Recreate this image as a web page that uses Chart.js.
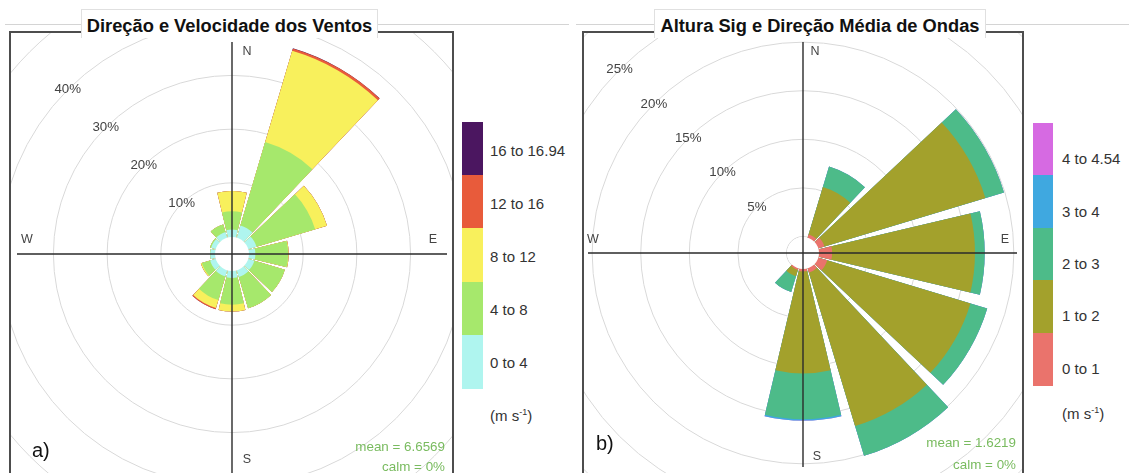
<!DOCTYPE html>
<html>
<head>
<meta charset="utf-8">
<script src="https://cdn.jsdelivr.net/npm/chart.js@4/dist/chart.umd.min.js"></script>
<style>
  body { margin:0; width:1129px; height:473px; overflow:hidden; background:#fff; position:relative;
         font-family:"Liberation Sans", Arial, Helvetica, sans-serif; }
  .abs { position:absolute; }
  .rule { position:absolute; top:24px; height:1px; background:#d4d4d4; }
  .panel { position:absolute; top:31px; height:470px; border:2px solid #4d4d4d; box-sizing:border-box; overflow:hidden; }
  .panel canvas { position:absolute; }
  .titlebox { position:absolute; top:9px; height:29px; background:#fff; border:1px solid #e0e0e0; border-bottom:none; box-sizing:border-box; }
  .title { position:absolute; left:0; right:0; top:7px; text-align:center; font-weight:bold; font-size:18.3px; line-height:18.3px; color:#111; white-space:nowrap; }
  .lg { position:absolute; font-size:15px; line-height:15px; color:#333; white-space:nowrap; }
  .stat { position:absolute; font-size:13.4px; line-height:13.4px; color:#79bb5f; white-space:nowrap; text-align:right; }
  .tag { position:absolute; font-size:20px; line-height:20px; color:#111; }
</style>
</head>
<body>
<div class="rule" style="left:5px;width:564px"></div>
<div class="rule" style="left:576px;width:553px"></div>

<div class="panel" style="left:9px;width:445px"><canvas id="wind" width="572" height="572" style="left:-65px;top:-65px;width:572px;height:572px"></canvas></div>
<div class="panel" style="left:582px;width:442px"><canvas id="wave" width="616" height="616" style="left:-89px;top:-88px;width:616px;height:616px"></canvas></div>

<div class="titlebox" style="left:81px;width:297px"><div class="title">Direção e Velocidade dos Ventos</div></div>
<div class="titlebox" style="left:654px;width:332px"><div class="title">Altura Sig e Direção Média de Ondas</div></div>

<div class="tag" style="left:32px;top:440px">a)</div>
<div class="tag" style="left:596px;top:433px">b)</div>

<div class="stat" style="right:684px;top:440px">mean = 6.6569</div>
<div class="stat" style="right:684px;top:460px">calm = 0%</div>
<div class="stat" style="right:113px;top:436px">mean = 1.6219</div>
<div class="stat" style="right:113px;top:458px">calm = 0%</div>

<script>
// Direction bins (degrees clockwise from north)
const directions = [0, 30, 60, 90, 120, 150, 180, 210, 240, 270, 300, 330];

// Wind: frequency (%) per direction for each speed class
const windClasses = ['0 to 4', '4 to 8', '8 to 12', '12 to 16', '16 to 16.94'];
const wind0to4   = [1.3, 2.3, 1.5, 1.1, 1.1, 1.2, 1.2, 1.1, 1.0, 0.8, 0.8, 1.0];
const wind4to8   = [3.4, 16.2, 11.4, 6.1, 5.9, 6.1, 5.0, 4.6, 1.6, 0.0, 0.2, 1.5];
const wind8to12  = [3.8, 17.7, 2.3, 0.1, 0.0, 0.0, 1.25, 1.55, 0.2, 0.0, 0.0, 0.0];
const wind12to16 = [0.0, 0.47, 0.0, 0.0, 0.0, 0.0, 0.0, 0.22, 0.0, 0.0, 0.0, 0.0];
const wind16to17 = [0.0, 0.03, 0.0, 0.0, 0.0, 0.0, 0.0, 0.0, 0.0, 0.0, 0.0, 0.0];
const windColors = ['#aff5ef', '#a6e86c', '#f8f05c', '#e85b3b', '#4b1660'];
const windGrid   = [0, 10, 20, 30, 40, 50];
const windPctLabels = [10, 20, 30, 40];

// Waves: frequency (%) per direction for each significant height class
const waveClasses = ['0 to 1', '1 to 2', '2 to 3', '3 to 4', '4 to 4.54'];
const wave0to1 = [0.0, 0.3, 0.6, 1.3, 0.9, 0.4, 0.2, 0.1, 0.0, 0.0, 0.0, 0.0];
const wave1to2 = [0.0, 5.1, 17.3, 14.7, 15.4, 16.5, 10.5, 0.7, 0.0, 0.0, 0.0, 0.0];
const wave2to3 = [0.0, 2.2, 2.0, 1.0, 1.8, 3.2, 4.7, 1.7, 0.0, 0.0, 0.0, 0.0];
const wave3to4 = [0.0, 0.0, 0.0, 0.0, 0.0, 0.0, 0.15, 0.0, 0.0, 0.0, 0.0, 0.0];
const wave4to5 = [0.0, 0.0, 0.0, 0.0, 0.0, 0.0, 0.02, 0.0, 0.0, 0.0, 0.0, 0.0];
const waveColors = ['#ea736c', '#a3a12c', '#4dbb89', '#3fa8e0', '#d66ae2'];
const waveGrid   = [0, 5, 10, 15, 20, 25, 30];
const wavePctLabels = [5, 10, 15, 20, 25];

const compass = ['N', 'E', 'S', 'W'];
const NONE = 'rgba(0,0,0,0)';

// Stacked petals: each class is drawn as its cumulative total, smaller totals on top.
function cumulative(series) {
  let acc = directions.map(() => 0);
  return series.map(s => { acc = acc.map((a, i) => a + s[i]); return acc.slice(); });
}

const roseDecor = {
  id: 'roseDecor',
  afterDatasetsDraw(chart, args, o) {
    const s = chart.scales.r, ctx = chart.ctx;
    const cx = s.xCenter, cy = s.yCenter;
    const r0 = s.getDistanceFromCenterForValue(0);
    ctx.save();
    // central hole
    ctx.fillStyle = '#fff';
    ctx.beginPath(); ctx.arc(cx, cy, r0 - 0.5, 0, Math.PI * 2); ctx.fill();
    // N-S / E-W axes
    ctx.strokeStyle = '#2b2b2b'; ctx.lineWidth = 1.4;
    ctx.beginPath();
    ctx.moveTo(cx, cy - o.cross[0]); ctx.lineTo(cx, cy + o.cross[1]);
    ctx.moveTo(cx - o.cross[2], cy); ctx.lineTo(cx + o.cross[3], cy);
    ctx.stroke();
    // percentage labels along the north-west diagonal
    ctx.fillStyle = '#444';
    ctx.font = '13.3px "Liberation Sans", Arial, sans-serif';
    ctx.textAlign = 'center'; ctx.textBaseline = 'middle';
    const d = Math.SQRT1_2;
    o.pct.forEach(v => {
      const r = s.getDistanceFromCenterForValue(v);
      ctx.fillText(v + '%', cx - r * d, cy - r * d);
    });
    // compass letters
    ctx.font = '12.5px "Liberation Sans", Arial, sans-serif';
    compass.forEach((t, i) => {
      const p = o.compassPos[i];
      ctx.fillText(t, cx + p[0], cy + p[1]);
    });
    ctx.restore();
  }
};

function rose(id, series, colors, grid, pct, barDeg, gapDeg, minV, maxV, cross, compassPos) {
  const cum = cumulative(series);
  const labels = directions.flatMap(dg => [dg + '°', '']);
  const angles = directions.flatMap(() => [barDeg, gapDeg]);
  const datasets = cum.map((vals, k) => ({
    data: vals.flatMap(v => [v, 0]),
    backgroundColor: vals.flatMap(v => [v > 0 ? colors[k] : NONE, NONE]),
    angle: angles,
    borderWidth: 0
  }));
  return new Chart(document.getElementById(id), {
    type: 'polarArea',
    data: { labels, datasets },
    plugins: [roseDecor],
    options: {
      responsive: false, animation: false, devicePixelRatio: 1, events: [],
      layout: { padding: 0 },
      plugins: {
        legend: { display: false }, tooltip: { enabled: false },
        roseDecor: { cross, compassPos, pct }
      },
      scales: {
        r: {
          min: minV, max: maxV, startAngle: -barDeg / 2,
          afterBuildTicks: sc => { sc.ticks = grid.map(v => ({ value: v })); },
          ticks: { display: false },
          grid: { color: '#d9d9d9', lineWidth: 1, circular: true },
          angleLines: { display: false },
          pointLabels: { display: false }
        }
      }
    }
  });
}

rose('wind', [wind0to4, wind4to8, wind8to12, wind12to16, wind16to17], windColors,
     windGrid, windPctLabels, 27, 3, -3.25, 50,
     [212, 230, 215, 215], [[15, -202], [201, -14], [15, 206], [-205, -14]]);

rose('wave', [wave0to1, wave1to2, wave2to3, wave3to4, wave4to5], waveColors,
     waveGrid, wavePctLabels, 26.5, 3.5, -1.7, 30,
     [211, 214, 215, 214], [[12, -201], [202, -13], [14, 204], [-210, -13]]);

// Colour keys
function legend(x, y, w, h, labelX, labelDy, classes, colors, unitY) {
  const n = classes.length, bh = h / n;
  for (let i = 0; i < n; i++) {
    const k = n - 1 - i;
    const b = document.createElement('div');
    b.className = 'abs';
    Object.assign(b.style, { left: x + 'px', top: (y + i * bh) + 'px', width: w + 'px',
                             height: (bh + 0.6) + 'px', background: colors[k] });
    document.body.appendChild(b);
    const t = document.createElement('div');
    t.className = 'lg';
    t.textContent = classes[k];
    Object.assign(t.style, { left: labelX + 'px', top: (y + i * bh + bh / 2 + labelDy - 7.5) + 'px' });
    document.body.appendChild(t);
  }
  const u = document.createElement('div');
  u.className = 'lg';
  u.innerHTML = '(m s<sup style="font-size:9px">-1</sup>)';
  Object.assign(u.style, { left: labelX + 'px', top: (unitY - 7.5) + 'px' });
  document.body.appendChild(u);
}
legend(462, 122, 21, 266, 490, 1.5, windClasses, windColors, 412);
legend(1033, 123, 20, 262, 1062, 9.5, waveClasses, waveColors, 410);
</script>
</body>
</html>
